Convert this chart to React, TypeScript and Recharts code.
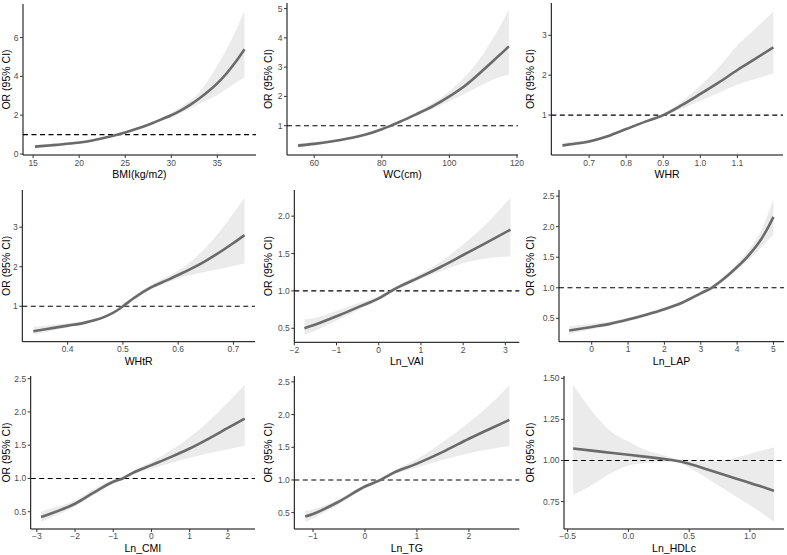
import React from 'react';
import { ComposedChart, Area, Line, XAxis, YAxis, ReferenceLine } from 'recharts';

// ---- Data ----
const bmiX = [15.2, 17, 19, 21, 23, 24, 25, 26, 27, 28, 29, 30, 31, 32, 33, 34, 35, 36, 37, 37.95];
const bmiOR = [0.38, 0.45, 0.54, 0.66, 0.86, 0.98, 1.11, 1.26, 1.42, 1.6, 1.8, 2.0, 2.24, 2.52, 2.85, 3.22, 3.64, 4.15, 4.75, 5.4];
const bmiLo = [0.3, 0.38, 0.48, 0.61, 0.82, 0.95, 1.08, 1.22, 1.37, 1.54, 1.72, 1.9, 2.1, 2.33, 2.58, 2.8, 3.04, 3.35, 3.66, 3.95];
const bmiHi = [0.48, 0.53, 0.61, 0.72, 0.9, 1.02, 1.15, 1.3, 1.47, 1.66, 1.88, 2.12, 2.4, 2.74, 3.15, 3.8, 4.58, 5.4, 6.35, 7.4];

const wcX = [55.2, 60, 65, 70, 75, 80, 82, 85, 90, 95, 100, 105, 110, 113, 115, 117.6];
const wcOR = [0.32, 0.38, 0.46, 0.56, 0.69, 0.88, 0.97, 1.12, 1.38, 1.66, 2.0, 2.4, 2.9, 3.22, 3.43, 3.71];
const wcLo = [0.26, 0.33, 0.42, 0.52, 0.66, 0.85, 0.94, 1.08, 1.32, 1.57, 1.84, 2.12, 2.42, 2.58, 2.66, 2.74];
const wcHi = [0.4, 0.44, 0.51, 0.6, 0.73, 0.91, 1.0, 1.16, 1.44, 1.77, 2.18, 2.72, 3.45, 4.0, 4.4, 4.97];

const whrX = [0.628, 0.65, 0.7, 0.75, 0.8, 0.85, 0.9, 0.95, 1.0, 1.05, 1.1, 1.15, 1.197];
const whrOR = [0.24, 0.27, 0.34, 0.47, 0.65, 0.83, 1.0, 1.25, 1.53, 1.82, 2.13, 2.42, 2.7];
const whrLo = [0.19, 0.23, 0.31, 0.44, 0.62, 0.8, 0.96, 1.16, 1.36, 1.56, 1.76, 1.91, 2.04];
const whrHi = [0.31, 0.33, 0.38, 0.51, 0.69, 0.86, 1.04, 1.34, 1.74, 2.2, 2.75, 3.18, 3.6];

const whtrX = [0.338, 0.36, 0.4, 0.43, 0.45, 0.47, 0.49, 0.5, 0.52, 0.55, 0.58, 0.6, 0.65, 0.7, 0.72];
const whtrOR = [0.37, 0.42, 0.51, 0.58, 0.65, 0.75, 0.9, 1.0, 1.21, 1.47, 1.66, 1.79, 2.15, 2.6, 2.8];
const whtrLo = [0.29, 0.35, 0.46, 0.54, 0.62, 0.72, 0.86, 0.96, 1.16, 1.42, 1.59, 1.7, 1.87, 2.02, 2.08];
const whtrHi = [0.48, 0.51, 0.57, 0.63, 0.69, 0.79, 0.94, 1.04, 1.26, 1.53, 1.75, 1.9, 2.48, 3.35, 3.75];

const vaiX = [-1.76, -1.5, -1, -0.5, 0, 0.3, 0.5, 1, 1.5, 2, 2.5, 3.12];
const vaiOR = [0.5, 0.55, 0.66, 0.78, 0.9, 1.0, 1.06, 1.19, 1.33, 1.48, 1.63, 1.82];
const vaiLo = [0.41, 0.47, 0.6, 0.74, 0.87, 0.97, 1.03, 1.16, 1.27, 1.37, 1.43, 1.46];
const vaiHi = [0.62, 0.64, 0.73, 0.83, 0.93, 1.03, 1.09, 1.23, 1.4, 1.62, 1.87, 2.25];

const lapX = [-0.62, 0, 0.5, 1, 1.5, 2, 2.5, 3, 3.3, 3.6, 4, 4.3, 4.6, 4.8, 5.0];
const lapOR = [0.3, 0.36, 0.41, 0.48, 0.56, 0.65, 0.76, 0.91, 1.0, 1.13, 1.34, 1.52, 1.74, 1.93, 2.16];
const lapLo = [0.25, 0.32, 0.38, 0.45, 0.53, 0.62, 0.73, 0.88, 0.97, 1.1, 1.29, 1.45, 1.62, 1.74, 1.87];
const lapHi = [0.37, 0.41, 0.45, 0.51, 0.59, 0.68, 0.79, 0.94, 1.03, 1.17, 1.39, 1.6, 1.87, 2.13, 2.46];

const cmiX = [-2.89, -2.5, -2, -1.5, -1, -0.75, -0.5, 0, 0.5, 1, 1.5, 2, 2.44];
const cmiOR = [0.42, 0.5, 0.62, 0.79, 0.95, 1.0, 1.08, 1.2, 1.32, 1.45, 1.6, 1.76, 1.9];
const cmiLo = [0.35, 0.44, 0.58, 0.75, 0.92, 0.98, 1.05, 1.15, 1.23, 1.31, 1.38, 1.44, 1.49];
const cmiHi = [0.5, 0.57, 0.67, 0.84, 0.98, 1.02, 1.11, 1.25, 1.42, 1.62, 1.86, 2.14, 2.41];

const tgX = [-1.15, -1, -0.5, 0, 0.3, 0.5, 1, 1.5, 2, 2.4, 2.78];
const tgOR = [0.44, 0.48, 0.67, 0.9, 1.0, 1.09, 1.25, 1.43, 1.63, 1.78, 1.92];
const tgLo = [0.36, 0.41, 0.63, 0.87, 0.97, 1.06, 1.19, 1.31, 1.41, 1.47, 1.52];
const tgHi = [0.53, 0.55, 0.71, 0.93, 1.03, 1.12, 1.32, 1.58, 1.88, 2.15, 2.45];

const hdlX = [-0.455, -0.3, -0.15, 0, 0.15, 0.3, 0.38, 0.5, 0.65, 0.8, 0.95, 1.1, 1.197];
const hdlOR = [1.073, 1.06, 1.047, 1.035, 1.022, 1.008, 1.0, 0.98, 0.945, 0.91, 0.875, 0.84, 0.815];
const hdlLo = [0.79, 0.85, 0.92, 0.97, 0.985, 0.99, 0.99, 0.955, 0.89, 0.82, 0.75, 0.68, 0.625];
const hdlHi = [1.46, 1.3, 1.18, 1.115, 1.06, 1.03, 1.01, 1.005, 1.0, 1.005, 1.03, 1.06, 1.08];

// tick labels
const bmiXTicks = [15, 20, 25, 30, 35];
const bmiYTicks = [0, 2, 4, 6];
const wcXTicks = [60, 80, 100, 120];
const wcYTicks = [1, 2, 3, 4, 5];
const whrXTicks = [0.7, 0.8, 0.9, 1.0, 1.1];
const whrYTicks = [1, 2, 3];
const whtrXTicks = [0.4, 0.5, 0.6, 0.7];
const whtrYTicks = [1, 2, 3];
const vaiXTicks = [-2, -1, 0, 1, 2, 3];
const vaiYTicks = [0.5, 1.0, 1.5, 2.0];
const lapXTicks = [0, 1, 2, 3, 4, 5];
const lapYTicks = [0.5, 1.0, 1.5, 2.0, 2.5];
const cmiXTicks = [-3, -2, -1, 0, 1, 2];
const cmiYTicks = [0.5, 1.0, 1.5, 2.0, 2.5];
const tgXTicks = [-1, 0, 1, 2];
const tgYTicks = [0.5, 1.0, 1.5, 2.0, 2.5];
const hdlXTicks = [-0.5, 0.0, 0.5, 1.0];
const hdlYTicks = [0.75, 1.0, 1.25, 1.5];

const FONT = "'Liberation Sans', Arial, Helvetica, sans-serif";

const fmt = (d: number) => (v: number) => {
  const s = v.toFixed(d);
  return v < 0 ? '\u2212' + s.slice(1) : s;
};

type PanelProps = {
  left: number; top: number; width: number; height: number;
  axisX: number; plotRight: number; plotTop: number; plotBottom: number;
  xDomain: [number, number]; yDomain: [number, number];
  xTicks: number[]; yTicks: number[]; xDec: number; yDec: number;
  xLabel: string; titleOffset: number; xTickMargin: number;
  xs: number[]; or: number[]; lo: number[]; hi: number[];
};

function Panel(p: PanelProps) {
  const data = p.xs.map((x, i) => ({ x, or: p.or[i], ci: [p.lo[i], p.hi[i]] }));
  const tickStyle = { fontSize: 8.5, fill: '#4d4d4d', fontFamily: FONT };
  return (
    <div style={{ position: 'absolute', left: p.left, top: p.top, width: p.width, height: p.height }}>
      <ComposedChart
        width={p.width}
        height={p.height}
        data={data}
        margin={{ top: p.plotTop, right: p.width - p.plotRight, bottom: 0, left: 0 }}
      >
        <XAxis
          dataKey="x"
          type="number"
          domain={p.xDomain}
          ticks={p.xTicks}
          allowDataOverflow
          interval={0}
          height={p.height - p.plotBottom}
          tickSize={3}
          tickMargin={p.xTickMargin}
          tick={tickStyle}
          tickFormatter={fmt(p.xDec)}
          axisLine={{ stroke: '#000', strokeWidth: 1 }}
          tickLine={{ stroke: '#333' }}
          label={{ value: p.xLabel, position: 'insideBottom', offset: p.titleOffset, style: { fontSize: 10.5, fill: '#000', fontFamily: FONT } }}
        />
        <YAxis
          type="number"
          domain={p.yDomain}
          ticks={p.yTicks}
          allowDataOverflow
          interval={0}
          width={p.axisX}
          tickSize={3}
          tickMargin={1.5}
          tick={tickStyle}
          tickFormatter={fmt(p.yDec)}
          axisLine={{ stroke: '#000', strokeWidth: 1 }}
          tickLine={{ stroke: '#333' }}
          label={{ value: 'OR (95% CI)', angle: -90, position: 'insideLeft', offset: 6.5, textAnchor: 'middle', style: { textAnchor: 'middle', fontSize: 10.5, fill: '#000', fontFamily: FONT } }}
        />
        <Area
          dataKey="ci"
          type="monotone"
          stroke="none"
          fill="#ebebec"
          fillOpacity={1}
          isAnimationActive={false}
          activeDot={false}
        />
        <ReferenceLine y={1} stroke="#000" strokeWidth={1.1} strokeDasharray="5 3.5" />
        <Line
          dataKey="or"
          type="monotone"
          stroke="#6a6a6a"
          strokeWidth={2.6}
          dot={false}
          activeDot={false}
          isAnimationActive={false}
        />
      </ComposedChart>
    </div>
  );
}

export default function App() {
  return (
    <div style={{ position: 'fixed', left: 0, top: 0, width: 787, height: 555, background: '#fff', overflow: 'hidden' }}>
      <Panel left={0} top={0} width={262} height={185} axisX={23} plotRight={256} plotTop={4} plotBottom={155}
        xDomain={[13.9, 39.2]} yDomain={[-0.05, 7.73]} xTicks={bmiXTicks} yTicks={bmiYTicks} xDec={0} yDec={0}
        xLabel="BMI(kg/m2)" titleOffset={7} xTickMargin={1.5} xs={bmiX} or={bmiOR} lo={bmiLo} hi={bmiHi} />
      <Panel left={262} top={0} width={262} height={185} axisX={25} plotRight={256} plotTop={3} plotBottom={155}
        xDomain={[51.95, 120.3]} yDomain={[0.0, 5.19]} xTicks={wcXTicks} yTicks={wcYTicks} xDec={0} yDec={0}
        xLabel="WC(cm)" titleOffset={7} xTickMargin={1.5} xs={wcX} or={wcOR} lo={wcLo} hi={wcHi} />
      <Panel left={524} top={0} width={263} height={185} axisX={27.3} plotRight={259} plotTop={3} plotBottom={155}
        xDomain={[0.598, 1.223]} yDomain={[0.0, 3.81]} xTicks={whrXTicks} yTicks={whrYTicks} xDec={1} yDec={0}
        xLabel="WHR" titleOffset={7} xTickMargin={1.5} xs={whrX} or={whrOR} lo={whrLo} hi={whrHi} />

      <Panel left={0} top={185} width={262} height={185} axisX={22.3} plotRight={255} plotTop={5} plotBottom={156.7}
        xDomain={[0.318, 0.739]} yDomain={[0.104, 3.94]} xTicks={whtrXTicks} yTicks={whtrYTicks} xDec={1} yDec={0}
        xLabel="WHtR" titleOffset={5} xTickMargin={1.5} xs={whtrX} or={whtrOR} lo={whtrLo} hi={whtrHi} />
      <Panel left={262} top={185} width={262} height={185} axisX={32.3} plotRight={257.3} plotTop={5} plotBottom={157.3}
        xDomain={[-2.0, 3.33]} yDomain={[0.312, 2.35]} xTicks={vaiXTicks} yTicks={vaiYTicks} xDec={0} yDec={1}
        xLabel="Ln_VAI" titleOffset={5} xTickMargin={1.5} xs={vaiX} or={vaiOR} lo={vaiLo} hi={vaiHi} />
      <Panel left={524} top={185} width={263} height={185} axisX={35} plotRight={260} plotTop={5} plotBottom={156.7}
        xDomain={[-0.9, 5.29]} yDomain={[0.118, 2.6]} xTicks={lapXTicks} yTicks={lapYTicks} xDec={0} yDec={1}
        xLabel="Ln_LAP" titleOffset={5} xTickMargin={1.5} xs={lapX} or={lapOR} lo={lapLo} hi={lapHi} />

      <Panel left={0} top={370} width={262} height={185} axisX={30.7} plotRight={255} plotTop={6} plotBottom={159}
        xDomain={[-3.16, 2.71]} yDomain={[0.24, 2.54]} xTicks={cmiXTicks} yTicks={cmiYTicks} xDec={0} yDec={1}
        xLabel="Ln_CMI" titleOffset={3} xTickMargin={0.5} xs={cmiX} or={cmiOR} lo={cmiLo} hi={cmiHi} />
      <Panel left={262} top={370} width={262} height={185} axisX={32.3} plotRight={257.3} plotTop={6} plotBottom={159}
        xDomain={[-1.36, 2.97]} yDomain={[0.25, 2.59]} xTicks={tgXTicks} yTicks={tgYTicks} xDec={0} yDec={1}
        xLabel="Ln_TG" titleOffset={3} xTickMargin={0.5} xs={tgX} or={tgOR} lo={tgLo} hi={tgHi} />
      <Panel left={524} top={370} width={263} height={185} axisX={40} plotRight={260} plotTop={6} plotBottom={159}
        xDomain={[-0.53, 1.28]} yDomain={[0.583, 1.514]} xTicks={hdlXTicks} yTicks={hdlYTicks} xDec={1} yDec={2}
        xLabel="Ln_HDLc" titleOffset={3} xTickMargin={0.5} xs={hdlX} or={hdlOR} lo={hdlLo} hi={hdlHi} />
    </div>
  );
}
